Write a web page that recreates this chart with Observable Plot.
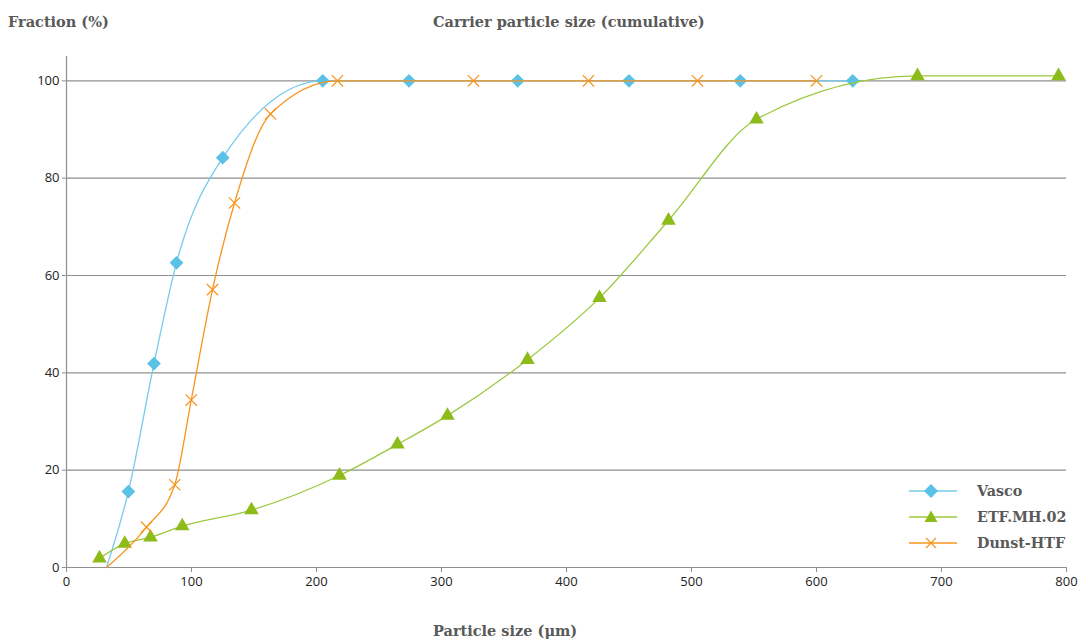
<!DOCTYPE html>
<html><head><meta charset="utf-8">
<script src="https://cdn.jsdelivr.net/npm/d3@7"></script>
<script src="https://cdn.jsdelivr.net/npm/@observablehq/plot@0.6"></script>
<style>
body{margin:0;background:#fff;}
#wrap{position:relative;width:1080px;height:639px;overflow:hidden;background:#fff;}
.t{position:absolute;font-family:"DejaVu Serif",serif;font-weight:bold;font-size:14.5px;color:#595959;white-space:nowrap;line-height:1;}
#chart{position:absolute;left:0;top:40px;}
#legend{position:absolute;left:905px;top:478px;}
.row{display:flex;align-items:center;height:26px;}
.row span{font-family:"DejaVu Serif",serif;font-weight:bold;font-size:14.3px;color:#595959;margin-left:16px;}
</style></head><body>
<div id="wrap">
<div class="t" style="left:8px;top:15px">Fraction (%)</div>
<div class="t" style="left:433px;top:15px">Carrier particle size (cumulative)</div>
<div class="t" style="left:433px;top:624px">Particle size (μm)</div>
<div id="chart"></div>
<div id="legend"></div>
</div>
<script>
// ---- data ----
const xTicks = [0, 100, 200, 300, 400, 500, 600, 700, 800];
const yTicks = [0, 20, 40, 60, 80, 100];

const vascoX = [32, 49.5, 70, 88, 125, 205, 274, 361, 450, 539, 629];
const vascoY = [0, 15.6, 41.9, 62.6, 84.2, 100, 100, 100, 100, 100, 100];

const etfX = [26.4, 46.6, 67.2, 92.6, 148, 218.4, 264.8, 304.8, 368.8, 426.4, 481.6, 552, 680.8, 793.6];
const etfY = [1.9, 4.9, 6.2, 8.5, 11.8, 18.9, 25.3, 31.2, 42.7, 55.4, 71.3, 92.1, 101, 101];

const dunstX = [32, 64, 86.6, 99.8, 116.8, 134.4, 163.2, 216.8, 325.6, 417.6, 504.8, 600];
const dunstY = [0, 8.3, 17, 34.4, 57.1, 74.9, 93.2, 100, 100, 100, 100, 100];

const seriesNames = ["Vasco", "ETF.MH.02", "Dunst-HTF"];
const lineColors = ["#74cbea", "#9cc83e", "#f7941d"];
const markColors = ["#5bc2e7", "#8dbb1a", "#f7941d"];

const toRows = (xs, ys) => xs.map((x, i) => ({x, y: ys[i]}));
const vasco = toRows(vascoX, vascoY);
const etf = toRows(etfX, etfY);
const dunst = toRows(dunstX, dunstY);

const curve = "monotone-x";

const chart = Plot.plot({
  width: 1080,
  height: 560,
  marginLeft: 66,
  marginRight: 14,
  marginTop: 16,
  marginBottom: 33,
  style: {fontFamily: "'Open Sans', sans-serif", fontSize: "13px", color: "#222", background: "#fff"},
  x: {domain: [0, 800]},
  y: {domain: [0, 105]},
  marks: [
    Plot.ruleY(yTicks.filter(d => d > 0), {stroke: "#8f8f8f", strokeWidth: 1.2}),
    Plot.axisY(yTicks, {tickSize: 4, tickPadding: 3, stroke: "#8f8f8f", fontSize: 13, fill: "#222", label: null}),
    Plot.axisX(xTicks, {tickSize: 5, tickPadding: 4, stroke: "#8f8f8f", fontSize: 13, fill: "#222", label: null}),
    Plot.ruleX([0], {stroke: "#8f8f8f", strokeWidth: 1.2}),
    Plot.ruleY([0], {stroke: "#8f8f8f", strokeWidth: 1.2}),
    Plot.line(vasco, {x: "x", y: "y", stroke: lineColors[0], strokeWidth: 1.3, curve}),
    Plot.dot(vasco.filter(d => d.y > 0), {x: "x", y: "y", symbol: "diamond2", r: 6.2, fill: markColors[0]}),
    Plot.line(etf, {x: "x", y: "y", stroke: lineColors[1], strokeWidth: 1.3, curve}),
    Plot.dot(etf, {x: "x", y: "y", symbol: "triangle", r: 5.4, fill: markColors[1]}),
    Plot.line(dunst, {x: "x", y: "y", stroke: lineColors[2], strokeWidth: 1.3, curve}),
    Plot.dot(dunst.filter(d => d.y > 0), {x: "x", y: "y", symbol: "times", r: 5.2, stroke: markColors[2], strokeWidth: 1.2})
  ]
});
document.getElementById("chart").appendChild(chart);

// ---- legend ----
const shapes = [
  c => `<path d="M26,6 L33,13 L26,20 L19,13 Z" fill="${c}"/>`,
  c => `<path d="M26,6.5 L32.5,18 L19.5,18 Z" fill="${c}"/>`,
  c => `<path d="M21,8 L31,18 M31,8 L21,18" stroke="${c}" stroke-width="1.3" fill="none"/>`
];
const legend = document.getElementById("legend");
seriesNames.forEach((name, i) => {
  const row = document.createElement("div");
  row.className = "row";
  row.innerHTML = `<svg width="56" height="26"><line x1="4" x2="52" y1="13" y2="13" stroke="${lineColors[i]}" stroke-width="1.5"/>${shapes[i](markColors[i])}</svg><span>${name}</span>`;
  legend.appendChild(row);
});
</script>
</body></html>
